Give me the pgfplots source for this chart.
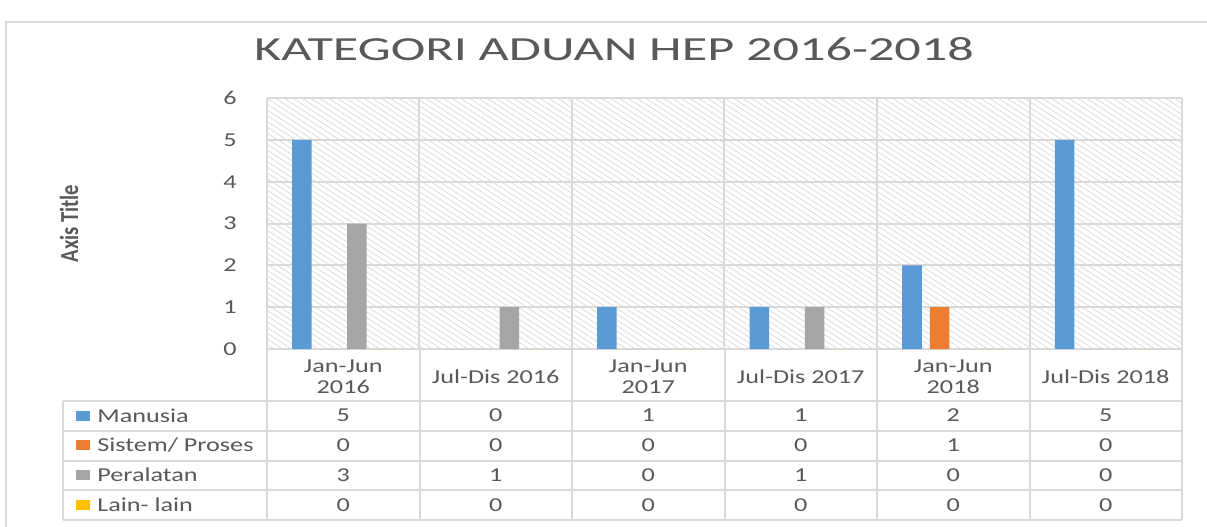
\documentclass[border=0pt]{standalone}
\usepackage{fontspec}
\usepackage{pgfplots}
\pgfplotsset{compat=1.18}
\usepackage{pgfplotstable}
\usetikzlibrary{patterns.meta}
\setmainfont{Carlito}
\newfontfamily\tabfont[FakeStretch=1.33]{Carlito}
\newfontfamily\titlefont[FakeStretch=1.55]{Carlito}
\newfontfamily\axtfont[FakeStretch=0.79]{Carlito}
\newcommand\tabsize{\fontsize{9.85}{10.5}\selectfont}

\definecolor{cMan}{HTML}{5B9BD5}
\definecolor{cSis}{HTML}{ED7D31}
\definecolor{cPer}{HTML}{A5A5A5}
\definecolor{cLain}{HTML}{FFC000}
\definecolor{txt}{HTML}{595959}
\definecolor{gridc}{HTML}{D9D9D9}
\definecolor{hatch}{HTML}{DCDCDC}

% kategori aduan per separuh tahun
\pgfplotstableread{
x man sis per lain
0 5 0 3 0
1 0 0 1 0
2 1 0 0 0
3 1 0 1 0
4 2 1 0 0
5 5 0 0 0
}\data

\begin{document}
\begin{tikzpicture}
% frame in pixel units (1px = 0.5pt), y downwards
\begin{scope}[x=0.5pt,y=-0.5pt]
  \useasboundingbox (0,0) rectangle (1207,526);
  \fill[white] (0,0) rectangle (1207,526);
  \draw[gridc, line width=1pt] (6,540) -- (6,22) -- (1220,22);
  \node[font=\titlefont\fontsize{16.85}{20}\selectfont, text=txt] at (614,49) {KATEGORI ADUAN HEP 2016-2018};
  \node[font=\axtfont\bfseries\fontsize{13}{15}\selectfont, text=txt, rotate=90] at (69,223.5) {Axis Title};
\end{scope}

\begin{axis}[
    at={(133.5pt,-174.5pt)}, anchor=south west,
    scale only axis, width=457.5pt, height=125.5pt,
    xmin=-0.5, xmax=5.5, ymin=0, ymax=6,
    ybar=4pt, bar width=9.75pt,
    xtick={0,...,5},
    xticklabels={{Jan-Jun\\2016},{Jul-Dis 2016},{Jan-Jun\\2017},{Jul-Dis 2017},{Jan-Jun\\2018},{Jul-Dis 2018}},
    minor xtick={-0.5,0.5,...,5.5},
    ytick={0,...,6},
    xmajorgrids=false, xminorgrids=true, ymajorgrids=true,
    grid style={gridc, line width=1pt},
    minor grid style={gridc, line width=1pt},
    axis line style={draw=none},
    tick style={draw=none},
    axis background/.style={pattern={Lines[angle=-33,distance=2.4pt,line width=0.4pt]}, pattern color=hatch},
    /pgf/number format/assume math mode=true,
    tick label style={font=\tabfont\tabsize, text=txt},
    yticklabel style={anchor=east, inner sep=0pt, xshift=-15pt},
    xticklabel style={anchor=center, align=center, inner sep=0pt, yshift=-9.5pt},
]
\addplot[fill=cMan, draw=none] table[x=x, y=man]{\data};
\addplot[fill=cSis, draw=none] table[x=x, y=sis]{\data};
\addplot[fill=cPer, draw=none] table[x=x, y=per]{\data};
\addplot[fill=cLain, draw=none] table[x=x, y=lain]{\data};
\end{axis}

% data table below the plot
\begin{scope}[x=0.5pt,y=-0.5pt]
  \foreach \yy in {401,430.75,460.5,490.25,520}
    \draw[gridc, line width=1pt] (63,\yy) -- (1182,\yy);
  \draw[gridc, line width=1pt] (63,401) -- (63,520);
  \foreach \xx in {267,419.5,572,724.5,877,1029.5,1182}
    \draw[gridc, line width=1pt] (\xx,349) -- (\xx,520);
  % legend keys and names
  \fill[cMan]  (76,410.5) rectangle (90,420.5);
  \fill[cSis]  (76,440.2) rectangle (90,450.2);
  \fill[cPer]  (76,470)   rectangle (90,480);
  \fill[cLain] (76,499.7) rectangle (90,509.7);
  \begin{scope}[every node/.style={font=\tabfont\tabsize, text=txt, inner sep=0pt}]
    \node[anchor=west] at (97,415.5) {Manusia};
    \node[anchor=west] at (97,445.2) {Sistem/ Proses};
    \node[anchor=west] at (97,475)   {Peralatan};
    \node[anchor=west] at (97,504.7) {Lain- lain};
    \foreach \c/\k in {0/man,1/sis,2/per,3/lain}{
      \foreach \r in {0,...,5}{
        \pgfplotstablegetelem{\r}{\k}\of\data
        \node at ({343.25+152.5*\r},{415.5+29.75*\c}) {\pgfplotsretval};
      }
    }
  \end{scope}
\end{scope}
\end{tikzpicture}
\end{document}
